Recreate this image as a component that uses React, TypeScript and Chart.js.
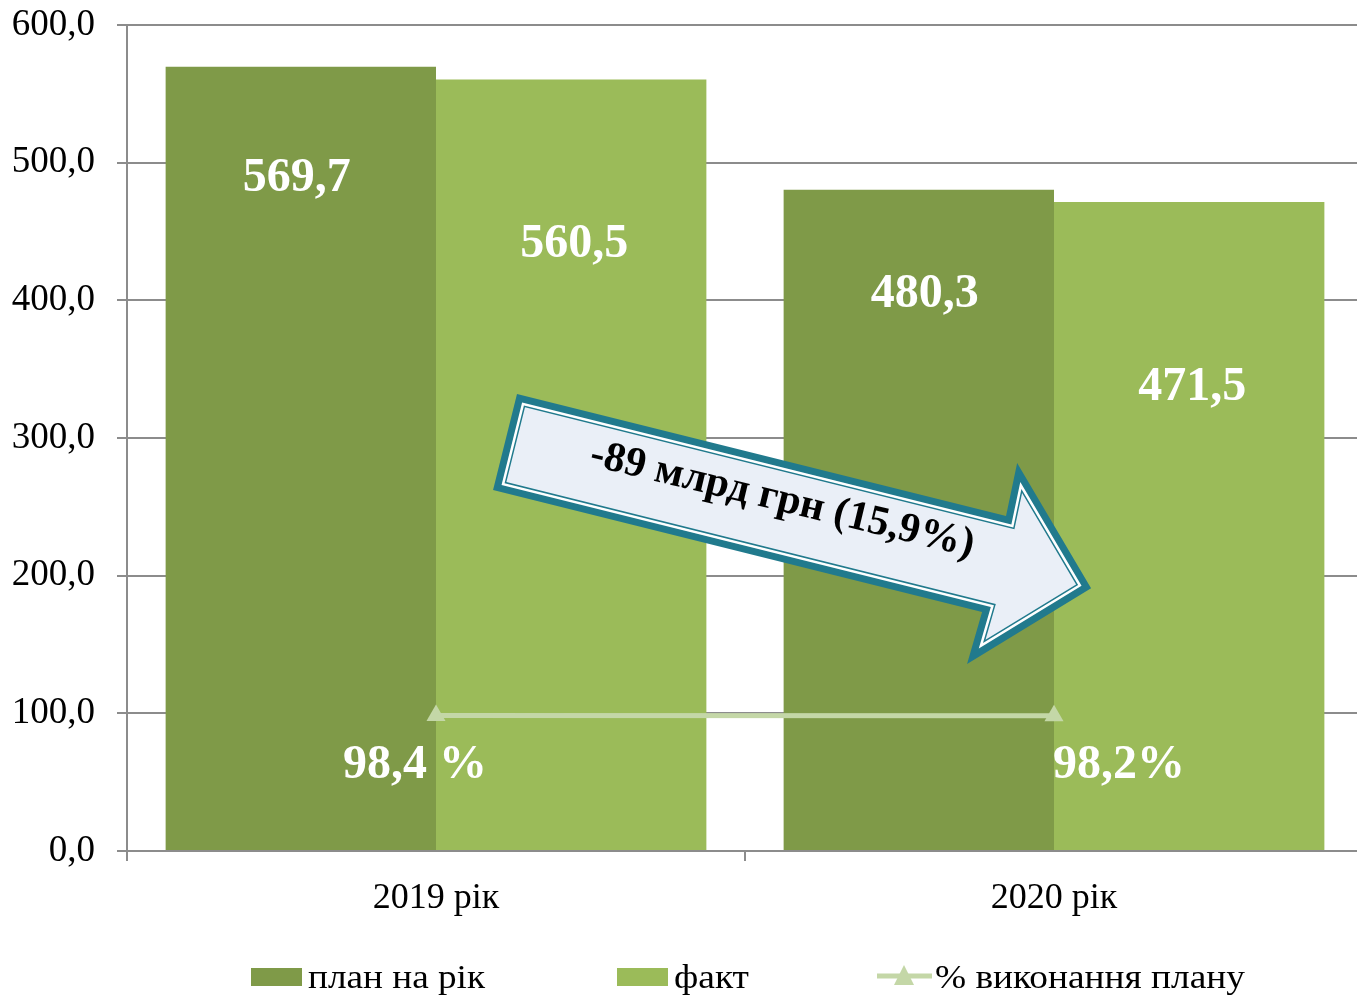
import React, { useEffect, useRef } from "react";
import { Chart, registerables } from "chart.js";

Chart.register(...registerables);

const categories = ["2019 рік", "2020 рік"];
const planValues = [569.7, 480.3];
const factValues = [560.5, 471.5];
const percentValues = [98.4, 98.2];
const planLabels = ["569,7", "480,3"];
const factLabels = ["560,5", "471,5"];
const percentLabels = ["98,4 %", "98,2%"];
const yTicks = [0, 100, 200, 300, 400, 500, 600];
const arrowText = "-89 млрд грн (15,9%)";
const legendNames = ["план на рік", "факт", "% виконання плану"];

const PLAN_COLOR = "#7f9a48";
const FACT_COLOR = "#9bbb59";
const LINE_COLOR = "#c4d7a7";
const GRID_COLOR = "#8c8c8c";
const SERIF = "'Liberation Serif', 'Times New Roman', serif";

function offsetPolygon(pts: number[][], d: number): number[][] {
  const n = pts.length;
  const lines: { p: number[]; v: number[] }[] = [];
  for (let i = 0; i < n; i++) {
    const a = pts[i];
    const b = pts[(i + 1) % n];
    const vx = b[0] - a[0];
    const vy = b[1] - a[1];
    const len = Math.hypot(vx, vy);
    const nx = -vy / len;
    const ny = vx / len;
    lines.push({ p: [a[0] + nx * d, a[1] + ny * d], v: [vx, vy] });
  }
  const out: number[][] = [];
  for (let i = 0; i < n; i++) {
    const l1 = lines[(i - 1 + n) % n];
    const l2 = lines[i];
    const det = l1.v[0] * l2.v[1] - l1.v[1] * l2.v[0];
    const dx = l2.p[0] - l1.p[0];
    const dy = l2.p[1] - l1.p[1];
    const t = (dx * l2.v[1] - dy * l2.v[0]) / det;
    out.push([l1.p[0] + l1.v[0] * t, l1.p[1] + l1.v[1] * t]);
  }
  return out;
}

function tracePoly(ctx: CanvasRenderingContext2D, pts: number[][]) {
  ctx.beginPath();
  pts.forEach((p, i) => (i === 0 ? ctx.moveTo(p[0], p[1]) : ctx.lineTo(p[0], p[1])));
  ctx.closePath();
}

const overlayPlugin = {
  id: "overlay",
  afterDatasetsDraw(chart: any) {
    const ctx: CanvasRenderingContext2D = chart.ctx;
    const meta0 = chart.getDatasetMeta(0);
    const meta1 = chart.getDatasetMeta(1);
    const meta2 = chart.getDatasetMeta(2);

    ctx.save();
    ctx.fillStyle = "#ffffff";
    ctx.font = `bold 48px ${SERIF}`;
    ctx.textAlign = "center";
    ctx.textBaseline = "middle";
    const planDx = [-4, 6];
    const planOffsets = [112, 105];
    const factOffsets = [165, 186];
    meta0.data.forEach((bar: any, i: number) => {
      ctx.fillText(planLabels[i], bar.x + planDx[i], bar.y + planOffsets[i]);
    });
    meta1.data.forEach((bar: any, i: number) => {
      ctx.fillText(factLabels[i], bar.x + 3, bar.y + factOffsets[i]);
    });
    const pctOffsets = [-21, 65];
    meta2.data.forEach((pt: any, i: number) => {
      ctx.fillText(percentLabels[i], pt.x + pctOffsets[i], pt.y + 50);
    });
    ctx.restore();

    // arrow
    const ang = (14 * Math.PI) / 180;
    const ox = 517;
    const oy = 394;
    const ux = Math.cos(ang);
    const uy = Math.sin(ang);
    const nx = -Math.sin(ang);
    const ny = Math.cos(ang);
    const P = (u: number, v: number) => [ox + ux * u + nx * v, oy + uy * u + ny * v];
    const outer = [
      P(0, 0),
      P(504, 0),
      P(502, -54),
      P(604, 49.5),
      P(502, 153),
      P(504, 99),
      P(0, 99),
    ];
    ctx.save();
    ctx.lineJoin = "miter";
    tracePoly(ctx, outer);
    ctx.fillStyle = "#217a8d";
    ctx.fill();
    tracePoly(ctx, offsetPolygon(outer, 7));
    ctx.fillStyle = "#ffffff";
    ctx.fill();
    tracePoly(ctx, offsetPolygon(outer, 9.5));
    ctx.fillStyle = "#217a8d";
    ctx.fill();
    tracePoly(ctx, offsetPolygon(outer, 11));
    ctx.fillStyle = "#eaeff7";
    ctx.fill();

    const c = P(283, 39);
    ctx.translate(c[0], c[1]);
    ctx.rotate((13.5 * Math.PI) / 180);
    ctx.fillStyle = "#000000";
    ctx.font = `bold 42px ${SERIF}`;
    ctx.textAlign = "center";
    ctx.textBaseline = "middle";
    ctx.fillText(arrowText, 0, 0);
    ctx.restore();
  },
  afterDraw(chart: any) {
    const ctx: CanvasRenderingContext2D = chart.ctx;
    ctx.save();
    const cy = 977;
    ctx.font = `34px ${SERIF}`;
    ctx.textBaseline = "middle";
    const items = [
      { x: 251, color: PLAN_COLOR, kind: "box", textW: 177 },
      { x: 617, color: FACT_COLOR, kind: "box", textW: 75 },
      { x: 877, color: LINE_COLOR, kind: "line", textW: 310 },
    ];
    items.forEach((it, i) => {
      if (it.kind === "box") {
        ctx.fillStyle = it.color;
        ctx.fillRect(it.x, cy - 9, 51, 18);
      } else {
        ctx.strokeStyle = it.color;
        ctx.lineWidth = 5;
        ctx.beginPath();
        ctx.moveTo(it.x, cy - 1);
        ctx.lineTo(it.x + 55, cy - 1);
        ctx.stroke();
        ctx.fillStyle = it.color;
        ctx.beginPath();
        ctx.moveTo(it.x + 27, cy - 12);
        ctx.lineTo(it.x + 37, cy + 8);
        ctx.lineTo(it.x + 17, cy + 8);
        ctx.closePath();
        ctx.fill();
      }
      const tx = it.kind === "box" ? it.x + 57 : it.x + 58;
      const w = ctx.measureText(legendNames[i]).width;
      ctx.save();
      ctx.translate(tx, cy + 2);
      ctx.scale(it.textW / w, 1);
      ctx.fillStyle = "#000000";
      ctx.fillText(legendNames[i], 0, 0);
      ctx.restore();
    });
    ctx.restore();
  },
};

export default function App() {
  const ref = useRef<HTMLCanvasElement | null>(null);
  useEffect(() => {
    if (!ref.current) return;
    const chart = new Chart(ref.current, {
      type: "bar",
      data: {
        labels: categories,
        datasets: [
          {
            type: "bar",
            label: legendNames[0],
            data: planValues,
            backgroundColor: PLAN_COLOR,
            categoryPercentage: 0.875,
            barPercentage: 1.0,
            order: 2,
          },
          {
            type: "bar",
            label: legendNames[1],
            data: factValues,
            backgroundColor: FACT_COLOR,
            categoryPercentage: 0.875,
            barPercentage: 1.0,
            order: 2,
          },
          {
            type: "line",
            label: legendNames[2],
            data: percentValues,
            borderColor: LINE_COLOR,
            backgroundColor: LINE_COLOR,
            borderWidth: 5,
            pointStyle: "triangle",
            pointRadius: 11,
            pointBorderWidth: 0,
            pointBackgroundColor: LINE_COLOR,
            order: 1,
          } as any,
        ],
      },
      options: {
        animation: false,
        responsive: false,
        maintainAspectRatio: false,
        layout: { padding: { top: 25, right: 3, left: 0, bottom: 0 } },
        plugins: { legend: { display: false }, tooltip: { enabled: false } },
        scales: {
          x: {
            grid: {
              display: true,
              drawOnChartArea: false,
              drawTicks: true,
              tickLength: 10,
              color: GRID_COLOR,
              lineWidth: 2,
              offset: true,
            },
            border: { color: GRID_COLOR, width: 2 },
            ticks: {
              color: "#000000",
              font: { family: SERIF, size: 36 },
              padding: 16,
            },
            afterFit: (scale: any) => {
              scale.height = 144;
              scale.paddingLeft = 0;
              scale.paddingRight = 0;
            },
          },
          y: {
            min: 0,
            max: 600,
            afterBuildTicks: (scale: any) => {
              scale.ticks = yTicks.map((v) => ({ value: v }));
            },
            grid: {
              color: GRID_COLOR,
              lineWidth: 2,
              tickLength: 10,
            },
            border: { color: GRID_COLOR, width: 2 },
            ticks: {
              color: "#000000",
              font: { family: SERIF, size: 37 },
              padding: 22,
              callback: (v: any) => Number(v).toFixed(1).replace(".", ","),
            },
            afterFit: (scale: any) => {
              scale.width = 127;
              scale.paddingTop = 0;
              scale.paddingBottom = 0;
            },
          },
        },
      },
      plugins: [overlayPlugin],
    });
    return () => chart.destroy();
  }, []);
  return (
    <div
      style={{
        position: "fixed",
        left: 0,
        top: 0,
        width: 1357,
        height: 995,
        overflow: "hidden",
        background: "#ffffff",
      }}
    >
      <canvas ref={ref} width={1374} height={995} style={{ display: "block" }} />
    </div>
  );
}
